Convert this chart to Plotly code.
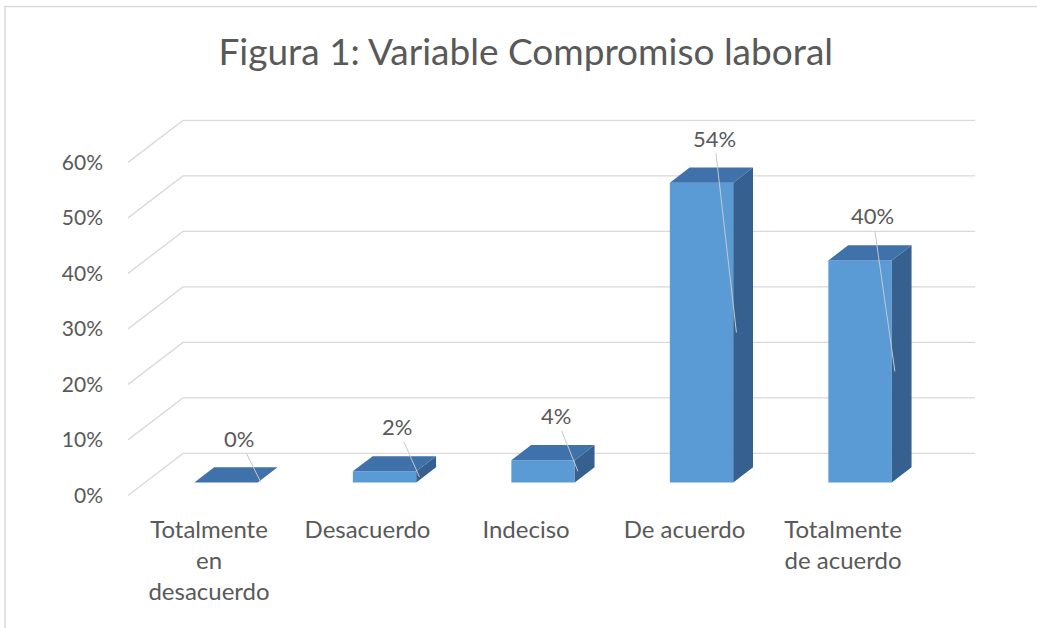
import plotly.graph_objects as go

# ---- data ----
categories = ["Totalmente<br>en<br>desacuerdo", "Desacuerdo", "Indeciso", "De acuerdo", "Totalmente<br>de acuerdo"]
values = [0.00, 0.02, 0.04, 0.54, 0.40]
value_labels = ["0%", "2%", "4%", "54%", "40%"]
y_ticks = [0.0, 0.1, 0.2, 0.3, 0.4, 0.5, 0.6]

# ---- layout geometry (pixels) ----
W, H = 1037, 628
PL, PR = 128, 975          # plot area left/right px
Y0, SY = 495, 555          # px of value 0 on front plane, px per unit
X0, SX = 209, 158.5        # px of category 0 on front plane, px per category
YMIN, YMAX = -0.01, 0.68
XMIN = (PL - X0) / SX
XMAX = (PR - X0) / SX
MT = Y0 - YMAX * SY
MB = H - (Y0 - YMIN * SY)

# 3D depth (in data units)
DX = 55 / SX
DY = 42 / SY
DF, DB = 0.31, 0.67        # bar front/back depth fractions
BW = 0.4

FRONT = "#5B9BD5"
TOP = "#3F71AA"
SIDE = "#35608F"
GRID = "#D9D9D9"
TXT = "#595959"
FONT = "Lato"

fig = go.Figure()

# gridlines (side wall + back wall), drawn below the bars
for t in y_ticks:
    fig.add_shape(type="path", xref="x", yref="y", layer="below",
                  path=f"M {XMIN},{t} L {XMIN + DX},{t + DY} L {XMAX},{t + DY}",
                  line=dict(color=GRID, width=1.3))

base = DF * DY
xs = [i + DF * DX for i in range(len(values))]
sdx = (DB - DF) * DX
sdy = (DB - DF) * DY

# front faces
fig.add_trace(go.Bar(x=xs, y=values, base=[base] * len(values), width=BW,
                     marker=dict(color=FRONT, line=dict(width=0)), showlegend=False,
                     hoverinfo="skip"))

# side faces
sx, sy = [], []
for x, v in zip(xs, values):
    xr = x + BW / 2
    yb, yt = base, base + v
    sx += [xr, xr + sdx, xr + sdx, xr, xr, None]
    sy += [yb, yb + sdy, yt + sdy, yt, yb, None]
fig.add_trace(go.Scatter(x=sx, y=sy, mode="lines", fill="toself", fillcolor=SIDE,
                         line=dict(width=0, color=SIDE), hoverinfo="skip", showlegend=False))

# top faces
tx, ty = [], []
for x, v in zip(xs, values):
    xl, xr = x - BW / 2, x + BW / 2
    yt = base + v
    tx += [xl, xr, xr + sdx, xl + sdx, xl, None]
    ty += [yt, yt, yt + sdy, yt + sdy, yt, None]
fig.add_trace(go.Scatter(x=tx, y=ty, mode="lines", fill="toself", fillcolor=TOP,
                         line=dict(width=0, color=TOP), hoverinfo="skip", showlegend=False))

# data labels with leader lines
for x, v, lab in zip(xs, values, value_labels):
    fig.add_annotation(x=x + BW / 2 + 0.02, y=base + v / 2,
                       ax=x + 0.08, ay=base + v + 0.08, axref="x", ayref="y",
                       text=lab, showarrow=True, arrowhead=0, arrowwidth=1,
                       arrowcolor="#C8C8C8", standoff=0,
                       font=dict(family=FONT, size=22, color=TXT))

# chart border
fig.add_shape(type="rect", xref="paper", yref="paper",
              x0=(5 - PL) / (PR - PL), x1=(W + 5 - PL) / (PR - PL),
              y0=((H - MB) - (H + 5)) / (H - MB - MT), y1=((H - MB) - 6) / (H - MB - MT),
              line=dict(color="#D9D9D9", width=1.5), fillcolor="rgba(0,0,0,0)", layer="below")

fig.update_layout(
    width=W, height=H,
    margin=dict(l=PL, r=W - PR, t=MT, b=MB, pad=0, autoexpand=False),
    paper_bgcolor="white", plot_bgcolor="white",
    title=dict(text="Figura 1: Variable Compromiso laboral", x=0.507, xanchor="center",
               y=1 - 52 / H, yanchor="middle", yref="container",
               font=dict(family=FONT, size=37, color=TXT)),
    xaxis=dict(range=[XMIN, XMAX], tickvals=list(range(len(categories))), ticktext=categories,
               showgrid=False, zeroline=False, showline=False, ticks="",
               tickfont=dict(family=FONT, size=24, color=TXT), ticklabelstandoff=12),
    yaxis=dict(range=[YMIN, YMAX], tickvals=y_ticks, tickformat=".0%",
               showgrid=False, zeroline=False, showline=False, ticks="",
               tickfont=dict(family=FONT, size=21, color=TXT), ticklabelstandoff=24),
    showlegend=False,
)

fig.write_html("out.html", config={"displayModeBar": False},
               post_script="document.body.style.margin='0';")
